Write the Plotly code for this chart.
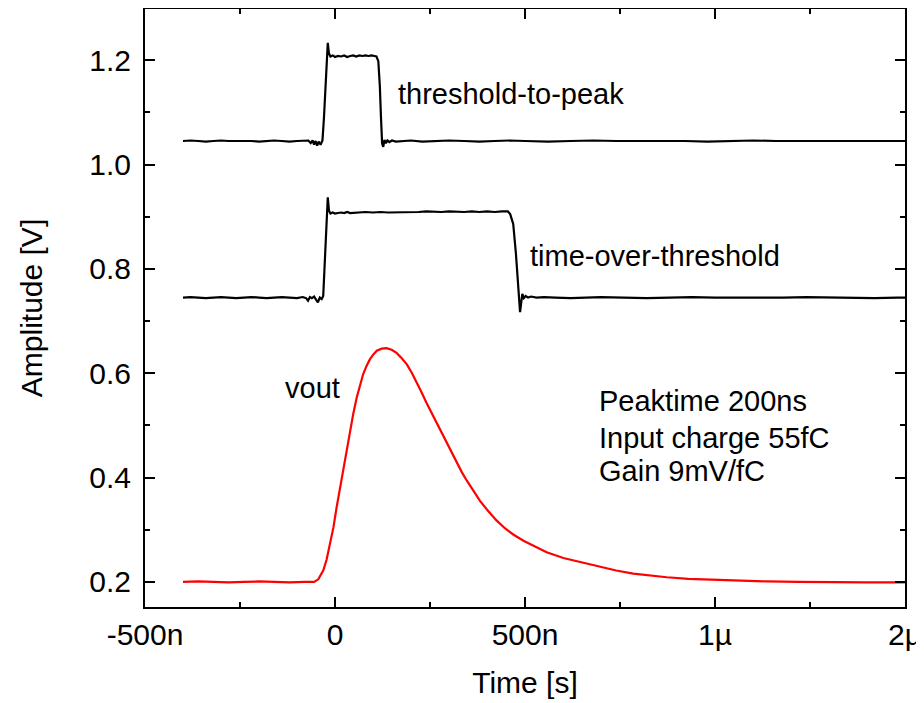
import plotly.graph_objects as go

# ---- data (time in ns on display axis, amplitude in V) ----
ttp_t = [-400, -380, -360, -340, -320, -300, -280, -260, -240, -220, -200, -180, -160, -140, -120,
         -100, -80, -70, -64, -59, -55, -51, -47, -43, -38, -33, -29, -24, -19, -16, -12, -6, 0, 8,
         16, 24, 32, 40, 48, 56, 64, 72, 80, 88, 96, 104, 109, 114, 118, 121, 124, 127, 130, 134,
         138, 143, 150, 160, 180, 200, 230, 260, 300, 340, 380, 420, 460, 500, 560, 620, 680, 740,
         800, 860, 920, 980, 1040, 1100, 1160, 1220, 1280, 1340, 1400, 1460, 1500]
ttp_v = [1.045, 1.046, 1.045, 1.044, 1.045, 1.046, 1.045, 1.045, 1.046, 1.045, 1.044, 1.045, 1.046,
         1.045, 1.044, 1.045, 1.045, 1.046, 1.041, 1.046, 1.038, 1.045, 1.036, 1.044, 1.038, 1.046,
         1.090, 1.170, 1.233, 1.213, 1.207, 1.209, 1.206, 1.208, 1.207, 1.209, 1.206, 1.208, 1.209,
         1.207, 1.209, 1.208, 1.209, 1.208, 1.209, 1.208, 1.207, 1.198, 1.150, 1.090, 1.040, 1.034,
         1.047, 1.041, 1.046, 1.043, 1.046, 1.044, 1.045, 1.046, 1.044, 1.045, 1.046, 1.045, 1.044,
         1.045, 1.046, 1.045, 1.044, 1.045, 1.046, 1.045, 1.045, 1.046, 1.045, 1.044, 1.045, 1.046,
         1.045, 1.045, 1.046, 1.045, 1.045, 1.046, 1.045]

tot_t = [-400, -380, -360, -340, -320, -300, -280, -260, -240, -220, -200, -180, -160, -140, -120,
         -100, -85, -76, -71, -66, -61, -55, -50, -45, -40, -35, -31, -26, -19, -16, -12, -6, 0, 8,
         16, 24, 32, 40, 60, 80, 100, 120, 140, 160, 180, 200, 220, 240, 260, 280, 300, 320, 340,
         360, 380, 400, 420, 440, 455, 461, 469, 476, 482, 487, 490, 493, 497, 502, 508, 516, 530,
         550, 580, 620, 660, 700, 760, 820, 880, 940, 1000, 1060, 1120, 1180, 1240, 1300, 1360,
         1420, 1480, 1500]
tot_v = [0.745, 0.746, 0.745, 0.744, 0.745, 0.746, 0.745, 0.744, 0.745, 0.746, 0.745, 0.744, 0.745,
         0.746, 0.745, 0.744, 0.746, 0.744, 0.739, 0.746, 0.744, 0.747, 0.741, 0.736, 0.745, 0.742,
         0.748, 0.840, 0.937, 0.912, 0.906, 0.908, 0.906, 0.907, 0.908, 0.907, 0.909, 0.907, 0.908,
         0.909, 0.908, 0.909, 0.908, 0.908, 0.909, 0.908, 0.909, 0.910, 0.909, 0.909, 0.910, 0.909,
         0.909, 0.910, 0.909, 0.910, 0.909, 0.910, 0.910, 0.905, 0.886, 0.830, 0.777, 0.717, 0.735,
         0.752, 0.744, 0.748, 0.745, 0.747, 0.745, 0.746, 0.745, 0.744, 0.745, 0.746, 0.745, 0.744,
         0.745, 0.746, 0.745, 0.745, 0.744, 0.745, 0.746, 0.745, 0.745, 0.744, 0.745, 0.745]

vout_t = [-400, -360, -320, -280, -240, -200, -160, -120, -80, -55, -44, -38, -31, -22, -13, -4, 4,
          13, 22, 30, 39, 48, 57, 66, 74, 83, 92, 101, 110, 123, 136, 149, 162, 175, 189, 202, 215,
          228, 241, 255, 268, 281, 294, 307, 320, 334, 347, 364, 382, 403, 425, 447, 469, 496, 522,
          557, 601, 645, 697, 740, 785, 830, 873, 930, 996, 1060, 1136, 1220, 1311, 1400, 1500]
vout_v = [0.200, 0.201, 0.200, 0.199, 0.200, 0.201, 0.200, 0.199, 0.200, 0.200, 0.205, 0.212, 0.222,
          0.243, 0.272, 0.305, 0.342, 0.380, 0.419, 0.454, 0.489, 0.522, 0.553, 0.578, 0.598,
          0.614, 0.627, 0.636, 0.643, 0.647, 0.648, 0.645, 0.639, 0.629, 0.617, 0.601, 0.583,
          0.563, 0.543, 0.523, 0.503, 0.484, 0.465, 0.446, 0.428, 0.410, 0.394, 0.374, 0.355,
          0.336, 0.318, 0.303, 0.291, 0.279, 0.269, 0.257, 0.246, 0.238, 0.229, 0.222, 0.216,
          0.212, 0.209, 0.206, 0.204, 0.202, 0.201, 0.200, 0.199, 0.199, 0.199]

x_tickvals = [-500, 0, 500, 1000, 1500]
x_ticktext = ["-500n", "0", "500n", "1\u00b5", "2\u00b5"]
y_tickvals = [0.2, 0.4, 0.6, 0.8, 1.0, 1.2]
y_ticktext = ["0.2", "0.4", "0.6", "0.8", "1.0", "1.2"]

labels = ["threshold-to-peak", "time-over-threshold", "vout"]
info_lines = ["Peaktime 200ns", "Input charge 55fC", "Gain 9mV/fC"]

FONT = "Liberation Sans, Arial, sans-serif"
FS_ANN = 29
FS_AX = 30

fig = go.Figure()
fig.add_trace(go.Scatter(x=ttp_t, y=ttp_v, mode="lines", line=dict(color="black", width=2.2)))
fig.add_trace(go.Scatter(x=tot_t, y=tot_v, mode="lines", line=dict(color="black", width=2.2)))
fig.add_trace(go.Scatter(x=vout_t, y=vout_v, mode="lines", line=dict(color="#ff0000", width=2.2)))

ann_pos = [(160, 1.135), (509, 0.8245), (-138, 0.572)]
for txt, (ax, ay) in zip(labels, ann_pos):
    fig.add_annotation(x=ax, y=ay, text=txt, showarrow=False, xanchor="left", yanchor="middle",
                       font=dict(family=FONT, size=FS_ANN, color="black"))
for i, txt in enumerate(info_lines):
    fig.add_annotation(x=689, y=[0.547, 0.476, 0.413][i], text=txt, showarrow=False,
                       xanchor="left", yanchor="middle", font=dict(family=FONT, size=FS_ANN, color="black"))

axis_common = dict(showline=True, linewidth=2, linecolor="black", mirror="allticks",
                   ticks="inside", ticklen=10, tickwidth=2, tickcolor="black",
                   showgrid=False, zeroline=False, automargin=False,
                   tickfont=dict(family=FONT, size=FS_AX, color="black"))

fig.update_xaxes(range=[-500, 1500], tickmode="array", tickvals=x_tickvals, ticktext=x_ticktext,
                 minor=dict(ticks="inside", ticklen=5, tickwidth=2, tickcolor="black",
                            tickmode="array", tickvals=[-250, 250, 750, 1250], showgrid=False),
                 title=dict(text="Time [s]", font=dict(family=FONT, size=FS_AX, color="black"), standoff=22),
                 **axis_common)
fig.update_yaxes(range=[0.152, 1.298], tickmode="array", tickvals=y_tickvals, ticktext=y_ticktext,
                 ticklabelstandoff=6,
                 minor=dict(ticks="inside", ticklen=5, tickwidth=2, tickcolor="black",
                            tickmode="array", tickvals=[0.3, 0.5, 0.7, 0.9, 1.1], showgrid=False),
                 title=dict(text="Amplitude [V]", font=dict(family=FONT, size=FS_AX, color="black"), standoff=38),
                 **axis_common)

# page body adds an 8px offset; figure sized so the plot frame lands where the reference has it
fig.update_layout(width=916, height=695, margin=dict(l=137, r=19, t=1, b=96),
                  plot_bgcolor="white", paper_bgcolor="white", showlegend=False,
                  font=dict(family=FONT, size=FS_AX, color="black"))

fig.write_html("out.html")
